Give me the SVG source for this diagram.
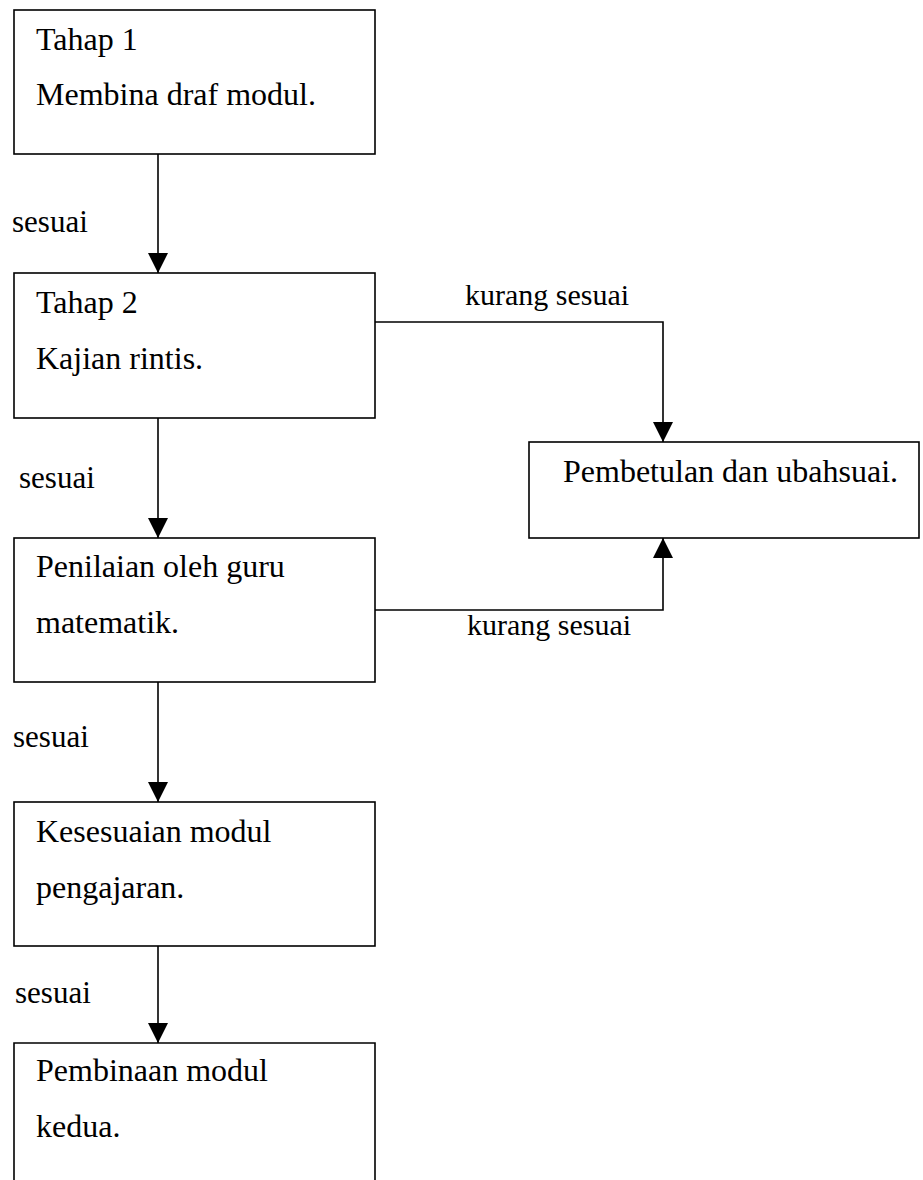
<svg xmlns="http://www.w3.org/2000/svg" width="923" height="1180" viewBox="0 0 923 1180">
<style>
.box{fill:#fff;stroke:#000;stroke-width:1.6}
.ln{fill:none;stroke:#000;stroke-width:1.6}
text{font-family:"Liberation Serif","Times New Roman",serif;font-size:32px;fill:#000}
.lbl{font-size:31px}
.lbk{font-size:30px}
</style>
<defs>
<marker id="ah" markerWidth="20" markerHeight="20" refX="20" refY="10" orient="auto" markerUnits="userSpaceOnUse">
<path d="M0,0 L20,10 L0,20 Z" fill="#000"/>
</marker>
</defs>
<rect width="923" height="1180" fill="#fff"/>
<g id="connectors">
<line class="ln" x1="158" y1="154" x2="158" y2="273" marker-end="url(#ah)"/>
<line class="ln" x1="158" y1="418" x2="158" y2="538" marker-end="url(#ah)"/>
<line class="ln" x1="158" y1="682" x2="158" y2="802" marker-end="url(#ah)"/>
<line class="ln" x1="158" y1="946" x2="158" y2="1043" marker-end="url(#ah)"/>
<polyline class="ln" points="375,322 663,322 663,442" marker-end="url(#ah)"/>
<polyline class="ln" points="375,610 663,610 663,538" marker-end="url(#ah)"/>
<text class="lbl" x="12" y="232">sesuai</text>
<text class="lbl" x="19" y="488">sesuai</text>
<text class="lbl" x="13" y="747">sesuai</text>
<text class="lbl" x="15" y="1003">sesuai</text>
<text class="lbk" x="465" y="305">kurang sesuai</text>
<text class="lbk" x="467" y="635">kurang sesuai</text>
</g>
<g id="node1">
<rect class="box" x="14" y="10" width="361" height="144"/>
<text x="36" y="50">Tahap 1</text>
<text x="36" y="105">Membina draf modul.</text>
</g>
<g id="node2">
<rect class="box" x="14" y="273" width="361" height="145"/>
<text x="36" y="313">Tahap 2</text>
<text x="36" y="369">Kajian rintis.</text>
</g>
<g id="node3">
<rect class="box" x="14" y="538" width="361" height="144"/>
<text x="36" y="577">Penilaian oleh guru</text>
<text x="36" y="633">matematik.</text>
</g>
<g id="node4">
<rect class="box" x="14" y="802" width="361" height="144"/>
<text x="36" y="842">Kesesuaian modul</text>
<text x="36" y="898">pengajaran.</text>
</g>
<g id="node5">
<path class="ln" d="M14,1182 L14,1043 L375,1043 L375,1182"/>
<text x="36" y="1081">Pembinaan modul</text>
<text x="36" y="1137">kedua.</text>
</g>
<g id="node6">
<rect class="box" x="529" y="442" width="390" height="96"/>
<text x="563" y="482">Pembetulan dan ubahsuai.</text>
</g>
</svg>
